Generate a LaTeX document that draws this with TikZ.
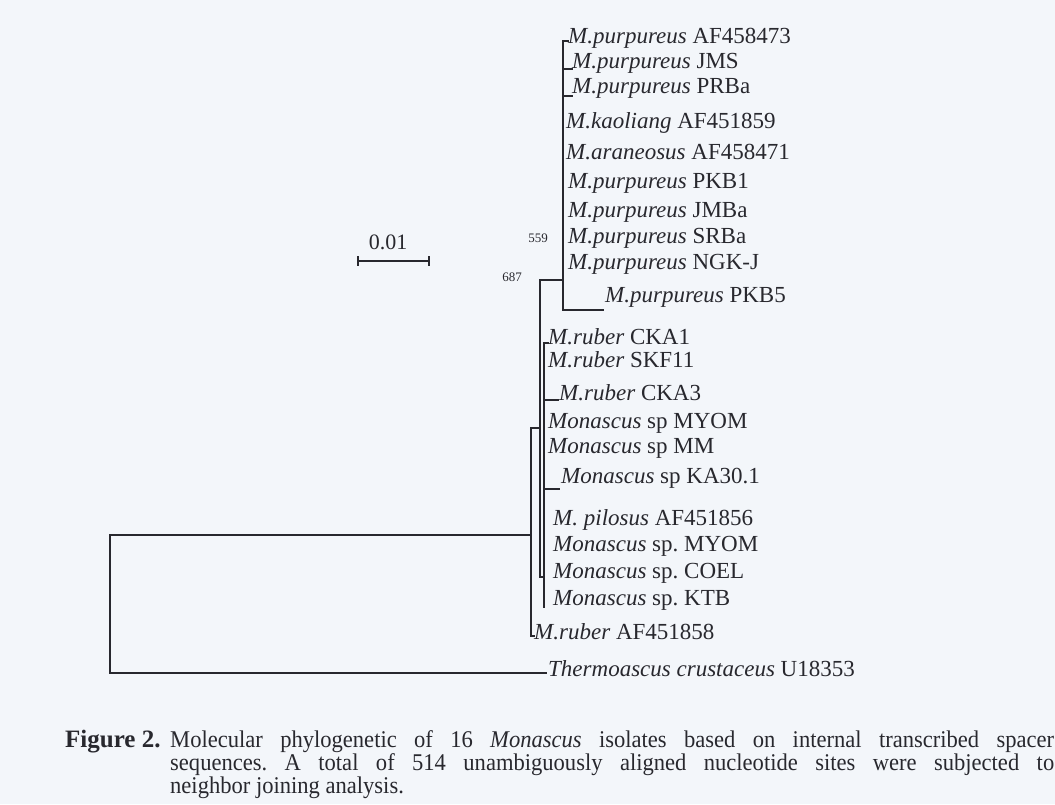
\documentclass[tikz,border=0pt]{standalone}
\usepackage{fontspec}
\setmainfont{Liberation Serif}
\newfontfamily\capfont[FakeStretch=0.94]{Liberation Serif}
\definecolor{ink}{RGB}{40,40,46}
\definecolor{paper}{RGB}{243,246,250}
\newcommand{\spn}[1]{\textit{#1}}
\frenchspacing
\begin{document}
\begin{tikzpicture}[x=1pt,y=-1pt]
\tikzset{
  branch/.style={draw=ink, line width=1.3pt, line cap=rect},
  leaf/.style={anchor=west, inner sep=0pt, text=ink, font=\fontsize{23}{25}\selectfont},
  boot/.style={inner sep=0pt, text=ink, font=\fontsize{13}{14}\selectfont},
  captxt/.style={anchor=base west, inner sep=0pt, text=ink, font=\capfont\fontsize{24}{23}\selectfont},
}
\fill[paper] (0,0) rectangle (1055,804);
\useasboundingbox (0,0) rectangle (1055,804);

% leaf labels
\node[leaf] (l1)  at (568,38)  {\spn{M.purpureus} AF458473};
\node[leaf] (l2)  at (572,63)  {\spn{M.purpureus} JMS};
\node[leaf] (l3)  at (572,88)  {\spn{M.purpureus} PRBa};
\node[leaf] (l4)  at (566,123) {\spn{M.kaoliang} AF451859};
\node[leaf] (l5)  at (566,152) {\spn{M.araneosus} AF458471};
\node[leaf] (l6)  at (568,183) {\spn{M.purpureus} PKB1};
\node[leaf] (l7)  at (568,212) {\spn{M.purpureus} JMBa};
\node[leaf] (l8)  at (568,238) {\spn{M.purpureus} SRBa};
\node[leaf] (l9)  at (568,264) {\spn{M.purpureus} NGK-J};
\node[leaf] (l10) at (605,297) {\spn{M.purpureus} PKB5};
\node[leaf] (l11) at (548,337) {\spn{M.ruber} CKA1};
\node[leaf] (l12) at (548,360) {\spn{M.ruber} SKF11};
\node[leaf] (l13) at (559,393) {\spn{M.ruber} CKA3};
\node[leaf] (l14) at (548,423) {\spn{Monascus} sp MYOM};
\node[leaf] (l15) at (548,448) {\spn{Monascus} sp MM};
\node[leaf] (l16) at (561,478) {\spn{Monascus} sp KA30.1};
\node[leaf] (l17) at (553,520) {\spn{M. pilosus} AF451856};
\node[leaf] (l18) at (553,546) {\spn{Monascus} sp. MYOM};
\node[leaf] (l19) at (553,573) {\spn{Monascus} sp. COEL};
\node[leaf] (l20) at (553,600) {\spn{Monascus} sp. KTB};
\node[leaf] (l21) at (534,632) {\spn{M.ruber} AF451858};
\node[leaf] (l22) at (548,669) {\spn{Thermoascus crustaceus} U18353};

% internal nodes
\coordinate (rt)   at (110,535);
\coordinate (rb)   at (110,673);
\coordinate (nA)   at (531,535);
\coordinate (nAt)  at (531,428);
\coordinate (nAb)  at (531,636);
\coordinate (n687) at (540,428);
\coordinate (n687t) at (540,280);
\coordinate (n687b) at (540,577);
\coordinate (n559) at (563,280);
\coordinate (n559t) at (563,41);
\coordinate (n559b) at (563,310);
\coordinate (nC)   at (544,577);
\coordinate (nCt)  at (544,343);
\coordinate (nCb)  at (544,607);
% leaf tips
\coordinate (t1)  at (568,41);
\coordinate (t2)  at (572,69);
\coordinate (t3)  at (572,96);
\coordinate (t10) at (603,310);
\coordinate (t11) at (548,343);
\coordinate (t13) at (558,400);
\coordinate (t16) at (559,489);
\coordinate (t21) at (534,636);
\coordinate (t22) at (546,673);

% branches
\draw[branch] (rt) -- (rb);
\draw[branch] (rt) -- (nA);
\draw[branch] (rb) -- (t22);
\draw[branch] (nAt) -- (nAb) -- (t21);
\draw[branch] (nAt) -- (n687);
\draw[branch] (n687t) -- (n687b) -- (nC);
\draw[branch] (n687t) -- (n559);
\draw[branch] (n559t) -- (n559b) -- (t10);
\draw[branch] (n559t) -- (t1);
\draw[branch] (n559t |- t2) -- (t2);
\draw[branch] (n559t |- t3) -- (t3);
\draw[branch] (nCt) -- (nCb);
\draw[branch] (nCt) -- (t11);
\draw[branch] (nCt |- t13) -- (t13);
\draw[branch] (nCt |- t16) -- (t16);

% bootstrap values
\node[boot] (b559) at (538,238) {559};
\node[boot] (b687) at (512,277) {687};

% scale bar
\coordinate (sb1) at (358,261);
\coordinate (sb2) at (429,261);
\draw[branch, line width=1.1pt] (sb1) -- (sb2);
\draw[branch, line width=1.1pt] ([yshift=-4pt]sb1) -- ([yshift=4pt]sb1);
\draw[branch, line width=1.1pt] ([yshift=-4pt]sb2) -- ([yshift=4pt]sb2);
\node[inner sep=0pt, text=ink, font=\fontsize{22}{24}\selectfont] (sbl) at (388,242) {0.01};

% caption
\node[anchor=base west, inner sep=0pt, text=ink, font=\bfseries\fontsize{25}{27}\selectfont] (fig) at (65,747) {Figure 2.};
\node[captxt] (cap) at (170,747) {\begin{minipage}[t]{884pt}\capfont\fontsize{24}{23}\selectfont
\makebox[884pt][s]{Molecular phylogenetic of 16 \textit{Monascus} isolates based on internal transcribed spacer}\\
\makebox[884pt][s]{sequences. A total of 514 unambiguously aligned nucleotide sites were subjected to}\\
neighbor joining analysis.\end{minipage}};
\end{tikzpicture}
\end{document}
